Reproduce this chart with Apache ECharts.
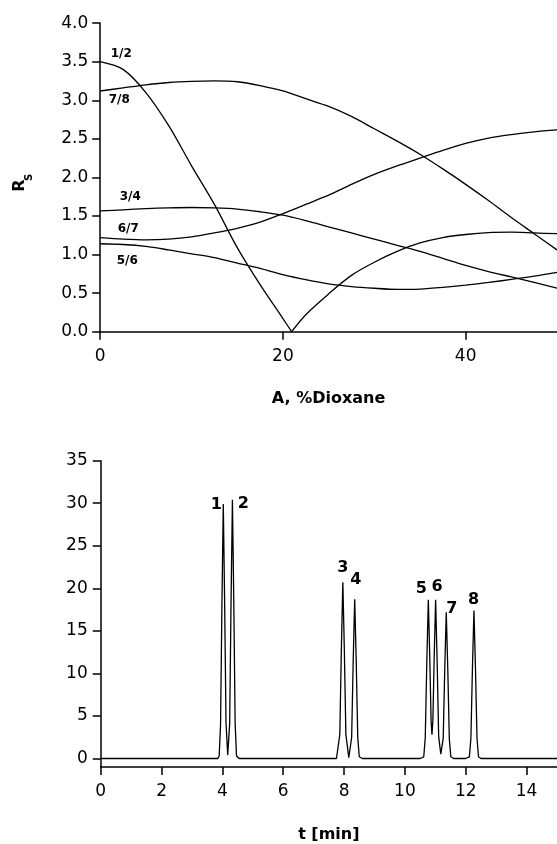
<!DOCTYPE html>
<html>
<head>
<meta charset="utf-8">
<script src="https://cdn.jsdelivr.net/npm/echarts@6/dist/echarts.min.js"></script>
<style>
  html, body { margin: 0; padding: 0; background: #fff; }
  #chart { width: 557px; height: 844px; }
</style>
</head>
<body>
<div id="chart"></div>
<script>
// top panel: resolution Rs against % dioxane
var dioxane = [0, 2.5, 5, 7.5, 10, 12.5, 15, 17.5, 20, 22.5, 25, 27.5, 30, 32.5, 35, 37.5, 40, 42.5, 45, 47.5, 50];
var rs78 = [3.12, 3.16, 3.20, 3.23, 3.245, 3.25, 3.24, 3.19, 3.12, 3.02, 2.92, 2.79, 2.63, 2.47, 2.30, 2.11, 1.91, 1.70, 1.48, 1.27, 1.06];
var rs34 = [1.565, 1.58, 1.595, 1.605, 1.61, 1.605, 1.59, 1.555, 1.51, 1.44, 1.36, 1.28, 1.20, 1.12, 1.04, 0.95, 0.86, 0.78, 0.71, 0.64, 0.565];
var rs67 = [1.22, 1.20, 1.19, 1.20, 1.23, 1.28, 1.34, 1.42, 1.53, 1.65, 1.77, 1.91, 2.04, 2.15, 2.25, 2.35, 2.44, 2.51, 2.555, 2.59, 2.615];
var rs56 = [1.14, 1.13, 1.105, 1.06, 1.01, 0.96, 0.89, 0.82, 0.74, 0.675, 0.62, 0.585, 0.563, 0.549, 0.553, 0.574, 0.603, 0.638, 0.677, 0.72, 0.77];
// 1/2 drops to zero and comes back, so it has its own x values
var rs12x = [0, 2.5, 5, 7.5, 10, 12.5, 15, 17.5, 20, 20.95, 22.5, 25, 27.5, 30, 32.5, 35, 37.5, 40, 42.5, 45, 47.5, 50];
var rs12 = [3.50, 3.40, 3.10, 2.67, 2.15, 1.65, 1.09, 0.61, 0.17, 0, 0.22, 0.49, 0.73, 0.90, 1.04, 1.15, 1.22, 1.26, 1.285, 1.29, 1.28, 1.27];
var pairNames = ['1/2', '7/8', '3/4', '6/7', '5/6'];

// bottom panel: chromatogram
var time = [0, 3.85, 3.895, 3.94, 3.985, 4.03, 4.075, 4.12, 4.175, 4.24, 4.285, 4.33, 4.375, 4.42, 4.465, 4.55,
  7.75, 7.81, 7.86, 7.91, 7.96, 8.01, 8.06, 8.155, 8.25, 8.30, 8.35, 8.40, 8.45, 8.50, 8.60,
  10.5, 10.62, 10.67, 10.72, 10.77, 10.82, 10.86, 10.89, 10.92, 10.96, 11.01, 11.06, 11.11, 11.18, 11.26, 11.31, 11.36, 11.41, 11.46, 11.51, 11.60,
  12.0, 12.12, 12.17, 12.22, 12.27, 12.32, 12.37, 12.42, 12.5, 15];
var signal = [0, 0, 0.3, 4.0, 18.1, 29.9, 18.2, 4.2, 0.4, 4.1, 18.4, 30.4, 18.4, 4.1, 0.3, 0,
  0, 0.2, 2.8, 12.6, 20.7, 12.6, 2.8, 0.1, 2.5, 11.4, 18.7, 11.4, 2.5, 0.2, 0,
  0, 0.2, 2.5, 11.3, 18.65, 11.5, 4.5, 2.8, 4.5, 11.5, 18.65, 11.4, 2.6, 0.5, 2.4, 10.5, 17.2, 10.5, 2.3, 0.2, 0,
  0, 0.2, 2.4, 10.6, 17.4, 10.6, 2.4, 0.2, 0, 0];
var peakNames = ['1', '2', '3', '4', '5', '6', '7', '8'];
var peakTimes = [4.03, 4.33, 7.96, 8.35, 10.77, 11.01, 11.36, 12.27];
var peakHeights = [29.9, 30.4, 20.7, 18.7, 18.65, 18.65, 17.2, 17.4];
var yTicksBottom = [0, 5, 10, 15, 20, 25, 30, 35];

function zip(xs, ys) {
  return xs.map(function (x, i) { return [x, ys[i]]; });
}

// label nudges (px) relative to the curve start / peak top
var pairLabelOffset = [[21, -8], [19, 9], [30, -14], [28, -9], [27, 17]];
var peakLabelOffset = [[-7, 1], [11, 4], [0, -15], [1, -20], [-7, -11], [1.5, -13], [5.5, -3], [-0.5, -10.5]];

var chart = echarts.init(document.getElementById('chart'));

var black = '#000';
var axisCommon = {
  axisLine: { onZero: false, lineStyle: { color: black, width: 1.5 } },
  axisTick: { length: 8, lineStyle: { color: black, width: 1.5 } },
  splitLine: { show: false }
};
var tickFont = { color: black, fontFamily: 'DejaVu Sans', fontSize: 17 };
var nameFont = { color: black, fontFamily: 'DejaVu Sans', fontSize: 16, fontWeight: 'bold' };

function lineSeries(data, xi, smooth) {
  return {
    type: 'line', xAxisIndex: xi, yAxisIndex: xi, data: data,
    showSymbol: false, symbol: 'none', smooth: smooth, silent: true,
    lineStyle: { color: black, width: 1.3 }
  };
}

function labelSeries(xi, data, size) {
  return {
    type: 'scatter', xAxisIndex: xi, yAxisIndex: xi, symbolSize: 0, silent: true,
    itemStyle: { opacity: 1, color: black },
    data: data,
    label: {
      show: true, position: 'inside', formatter: '{b}', opacity: 1,
      color: black, fontFamily: 'DejaVu Sans', fontSize: size, fontWeight: 'bold'
    }
  };
}

// split 1/2 at its zero so the V stays sharp
var rs12pts = zip(rs12x, rs12);
var vIdx = rs12.indexOf(Math.min.apply(null, rs12));

var curves = [rs12pts, zip(dioxane, rs78), zip(dioxane, rs34), zip(dioxane, rs67), zip(dioxane, rs56)];

var option = {
  animation: false,
  backgroundColor: '#fff',
  grid: [
    { left: 100.2, top: 23.1, width: 459.5, height: 308.6 },
    { left: 100.7, top: 460.7, width: 462.8, height: 311.6 }
  ],
  xAxis: [
    Object.assign({}, axisCommon, {
      gridIndex: 0, type: 'value', min: 0, max: 50, interval: 20,
      axisLabel: Object.assign({ margin: 16, showMaxLabel: false }, tickFont),
      name: 'A, %Dioxane', nameLocation: 'middle', nameGap: 59, nameTextStyle: nameFont
    }),
    Object.assign({}, axisCommon, {
      gridIndex: 1, type: 'value', min: 0, max: 15, interval: 2,
      axisLabel: Object.assign({ margin: 16, showMaxLabel: false }, tickFont),
      name: 't [min]', nameLocation: 'middle', nameGap: 60, nameTextStyle: nameFont
    })
  ],
  yAxis: [
    Object.assign({}, axisCommon, {
      gridIndex: 0, type: 'value', min: 0, max: 4, interval: 0.5,
      axisLabel: Object.assign({ margin: 12, formatter: function (v) { return v.toFixed(1); } }, tickFont)
    }),
    Object.assign({}, axisCommon, {
      gridIndex: 1, type: 'value', min: -1, max: 35,
      axisTick: { length: 8, customValues: yTicksBottom, lineStyle: { color: black, width: 1.5 } },
      axisLabel: Object.assign({ margin: 13, customValues: yTicksBottom }, tickFont)
    })
  ],
  graphic: [
    { type: 'text', x: 19.5, y: 185.5, rotation: Math.PI / 2,
      style: { text: 'R', fill: black, font: 'bold 16px "DejaVu Sans"', textAlign: 'center', textVerticalAlign: 'middle' } },
    { type: 'text', x: 29.7, y: 177.5, rotation: Math.PI / 2,
      style: { text: 'S', fill: black, font: 'bold 10px "DejaVu Sans"', textAlign: 'center', textVerticalAlign: 'middle' } }
  ],
  series: [
    lineSeries(rs12pts.slice(0, vIdx + 1), 0, 0.3),
    lineSeries(rs12pts.slice(vIdx), 0, 0.3),
    lineSeries(curves[1], 0, 0.3),
    lineSeries(curves[2], 0, 0.3),
    lineSeries(curves[3], 0, 0.3),
    lineSeries(curves[4], 0, 0.3),
    labelSeries(0, pairNames.map(function (n, i) {
      return { value: curves[i][0], name: n, label: { offset: pairLabelOffset[i] } };
    }), 12),
    lineSeries(zip(time, signal), 1, false),
    labelSeries(1, peakNames.map(function (n, i) {
      return { value: [peakTimes[i], peakHeights[i]], name: n, label: { offset: peakLabelOffset[i] } };
    }), 16)
  ]
};

chart.setOption(option);
</script>
</body>
</html>
